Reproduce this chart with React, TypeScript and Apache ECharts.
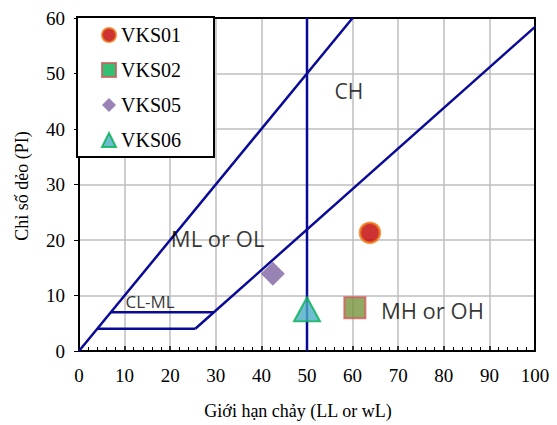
import React, { useEffect, useRef } from "react";
import * as echarts from "echarts";

const xTicks = [0, 10, 20, 30, 40, 50, 60, 70, 80, 90, 100];
const yTicks = [0, 10, 20, 30, 40, 50, 60];

// boundary lines of the plasticity chart
const diagLine = [[0, 0], [60, 60]];
const aLine = [[25.5, 4], [100, 58.4]];
const llLine = [[50, 0], [50, 60]];
const clml4 = [[4, 4], [25.5, 4]];
const clml7 = [[7, 7], [29.6, 7]];

// samples
const vks01 = [[63.8, 21.3]];
const vks02 = [[60.5, 7.8]];
const vks05 = [[42.5, 13.9]];
const vks06 = [[50, 7.5]];

// zone labels
const zoneNames = ["CH", "ML or OL", "CL-ML", "MH or OH"];
const zonePos = [[59.2, 46.8], [30.4, 20.3], [15.6, 9.0], [77.5, 7.3]];
const zoneSizes = [21, 22, 17, 22];

const LINE = "#0A0A96";
const GRIDC = "#BEBEBE";
const SERIF = "'Liberation Serif', 'Times New Roman', serif";
const SANS = "'Open Sans', 'Noto Sans', sans-serif";

export default function App() {
  const ref = useRef<HTMLDivElement>(null);
  useEffect(() => {
    const chart = echarts.init(ref.current!, null, { renderer: "svg" });
    const lineSeries = (name: string, data: number[][]) => ({
      name,
      type: "line",
      data,
      symbol: "none",
      lineStyle: { color: LINE, width: 2.5 },
      z: 3,
      silent: true,
    });
    chart.setOption({
      animation: false,
      backgroundColor: "#fff",
      grid: {
        left: 79,
        right: 22,
        top: 18,
        bottom: 74,
        show: false,
      },
      xAxis: [
        {
          type: "value",
          min: 0,
          max: 100,
          interval: 10,
          axisLine: { show: true, onZero: false, lineStyle: { color: "#000", width: 2 } },
          axisTick: { show: true, inside: true, length: 5, lineStyle: { color: "#000", width: 1.5 } },
          minorTick: { show: true, splitNumber: 5, length: 4, lineStyle: { color: "#000", width: 1 } },
          splitLine: { show: true, lineStyle: { color: GRIDC, width: 1.5 } },
          axisLabel: {
            margin: 15,
            fontFamily: SERIF,
            fontSize: 19,
            color: "#000",
            formatter: (v: number) => (xTicks.includes(v) ? String(v) : ""),
          },
        },
        {
          type: "value",
          position: "top",
          min: 0,
          max: 100,
          axisLine: { show: true, onZero: false, lineStyle: { color: "#000", width: 2 } },
          axisTick: { show: false },
          axisLabel: { show: false },
          splitLine: { show: false },
        },
      ],
      yAxis: [
        {
          type: "value",
          min: 0,
          max: 60,
          interval: 10,
          axisLine: { show: true, onZero: false, lineStyle: { color: "#000", width: 2 } },
          axisTick: { show: true, inside: false, length: 5, lineStyle: { color: "#000", width: 1 } },
          splitLine: { show: true, lineStyle: { color: GRIDC, width: 1.5 } },
          axisLabel: {
            margin: 14,
            fontFamily: SERIF,
            fontSize: 19,
            color: "#000",
            formatter: (v: number) => (yTicks.includes(v) ? String(v) : ""),
          },
        },
        {
          type: "value",
          position: "right",
          min: 0,
          max: 60,
          axisLine: { show: true, onZero: false, lineStyle: { color: "#000", width: 2 } },
          axisTick: { show: false },
          axisLabel: { show: false },
          splitLine: { show: false },
        },
      ],
      legend: {
        orient: "vertical",
        left: 77,
        top: 17,
        data: [
          { name: "VKS01" },
          { name: "VKS02", itemStyle: { color: "#00B050", borderColor: "#D05A5A", borderWidth: 2 } },
          { name: "VKS05" },
          { name: "VKS06" },
        ],
        backgroundColor: "#fff",
        borderColor: "#000",
        borderWidth: 2,
        borderRadius: 0,
        padding: [8, 33, 7, 24],
        itemGap: 15,
        itemWidth: 14,
        itemHeight: 14,
        textStyle: { fontFamily: SERIF, fontSize: 20, color: "#000", lineHeight: 17 },
      },
      graphic: [
        {
          type: "text",
          x: 298,
          y: 411,
          style: {
            text: "Giới hạn chảy (LL or wL)",
            font: `18px ${SERIF}`,
            fill: "#000",
            textAlign: "center",
            textVerticalAlign: "middle",
          },
        },
        {
          type: "text",
          x: 22,
          y: 186,
          rotation: Math.PI / 2,
          style: {
            text: "Chỉ số dẻo (PI)",
            font: `18px ${SERIF}`,
            fill: "#000",
            textAlign: "center",
            textVerticalAlign: "middle",
          },
        },
      ],
      series: [
        lineSeries("diag", diagLine),
        lineSeries("aline", aLine),
        lineSeries("ll50", llLine),
        lineSeries("clml4", clml4),
        lineSeries("clml7", clml7),
        {
          name: "zones",
          type: "scatter",
          symbolSize: 0,
          silent: true,
          data: zoneNames.map((n, i) => ({
            name: n,
            value: zonePos[i],
            label: {
              show: true,
              position: "inside",
              formatter: n,
              fontFamily: SANS,
              fontSize: zoneSizes[i],
              color: "#000",
            },
          })),
          z: 4,
        },
        {
          name: "VKS01",
          type: "scatter",
          data: vks01,
          symbol: "circle",
          symbolSize: 20,
          itemStyle: { color: "#C00000", borderColor: "#F07C16", borderWidth: 2.5 },
          z: 5,
        },
        {
          name: "VKS02",
          type: "scatter",
          data: vks02,
          symbol: "rect",
          symbolSize: 21,
          itemStyle: { color: "#77933C", borderColor: "#D05A5A", borderWidth: 2 },
          z: 5,
        },
        {
          name: "VKS05",
          type: "scatter",
          data: vks05,
          symbol: "diamond",
          symbolSize: 24,
          itemStyle: { color: "#8064A2" },
          z: 5,
        },
        {
          name: "VKS06",
          type: "scatter",
          data: vks06,
          symbol: "triangle",
          symbolSize: [26, 24],
          itemStyle: { color: "#4BACC6", borderColor: "#00B050", borderWidth: 2 },
          z: 5,
        },
      ],
    });
    return () => chart.dispose();
  }, []);
  return <div ref={ref} style={{ width: 557, height: 425, position: "absolute", left: 0, top: 0 }} />;
}
